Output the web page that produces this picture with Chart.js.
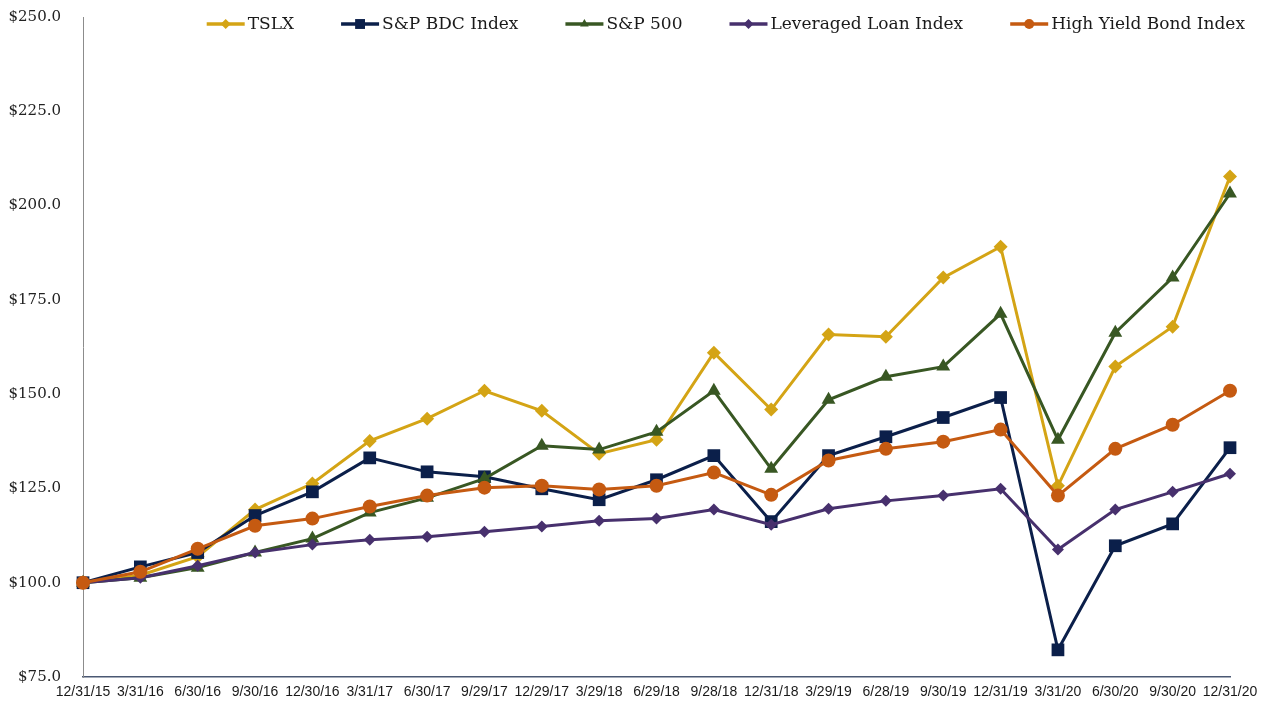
<!DOCTYPE html>
<html>
<head>
<meta charset="utf-8">
<script src="https://cdn.jsdelivr.net/npm/chart.js@4.4.1/dist/chart.umd.min.js"></script>
<style>
  html, body { margin: 0; padding: 0; background: #fff; }
  #wrap { width: 1268px; height: 708px; }
</style>
</head>
<body>
<div id="wrap"><canvas id="perfChart" width="1268" height="708"></canvas></div>
<script>
// quarter-end dates
const labels = ['12/31/15', '3/31/16', '6/30/16', '9/30/16', '12/30/16', '3/31/17', '6/30/17', '9/29/17',
  '12/29/17', '3/29/18', '6/29/18', '9/28/18', '12/31/18', '3/29/19', '6/28/19', '9/30/19',
  '12/31/19', '3/31/20', '6/30/20', '9/30/20', '12/31/20'];

const tslx = [100, 102, 106.9, 119.4, 126.3, 137.6, 143.5, 150.9, 145.6, 134.2, 137.9, 161.0, 145.9,
  165.8, 165.2, 180.9, 189.1, 125.7, 157.3, 167.9, 207.7];
const bdcIndex = [100, 104.2, 108, 117.8, 124.1, 133.1, 129.4, 128.1, 124.9, 122.0, 127.3, 133.7, 116.2,
  133.7, 138.7, 143.8, 149.1, 82.2, 109.8, 115.6, 135.8];
const sp500 = [100, 101.3, 104, 108, 111.7, 118.6, 122.5, 127.6, 136.3, 135.3, 140, 150.9, 130.2,
  148.5, 154.6, 157.3, 171.3, 137.9, 166.3, 180.9, 203.2];
const loanIndex = [100, 101.3, 104.5, 108, 110.1, 111.4, 112.2, 113.5, 114.9, 116.4, 117, 119.4, 115.4,
  119.6, 121.7, 123.1, 124.9, 108.8, 119.4, 124.1, 128.9];
const hyIndex = [100, 102.9, 109, 115.1, 117, 120.2, 123.1, 125.2, 125.7, 124.7, 125.7, 129.2, 123.3,
  132.4, 135.5, 137.4, 140.6, 123.1, 135.5, 141.9, 150.9];

const yMin = 75, yMax = 250, yStep = 25;

const serif = "'DejaVu Serif', 'Liberation Serif', serif";

const series = [
    { label: 'TSLX', data: tslx, color: '#D4A415', style: 'rectRot', radius: 7, order: 4 },
    { label: 'S&P BDC Index', data: bdcIndex, color: '#0B1F4A', style: 'rect', radius: 9, order: 3 },
    { label: 'S&P 500', data: sp500, color: '#385723', style: 'triangle', radius: 8, order: 2 },
    { label: 'Leveraged Loan Index', data: loanIndex, color: '#47306D', style: 'rectRot', radius: 6, order: 1 },
    { label: 'High Yield Bond Index', data: hyIndex, color: '#C55A11', style: 'circle', radius: 7, order: 0 }
];

// legend sits inside the plot, top right, in one row
const topLegend = {
    id: 'topLegend',
    afterDraw(chart) {
        const c = chart.ctx;
        c.save();
        c.font = '17px ' + serif;
        c.textBaseline = 'middle';
        const swW = 38, gapText = 3, gapItem = 47, y = 24;
        const widths = series.map(s => c.measureText(s.label).width);
        const total = widths.reduce((a, w) => a + swW + gapText + w, 0) + gapItem * (series.length - 1);
        let x = 1245 - total;
        series.forEach((s, i) => {
            c.strokeStyle = s.color;
            c.fillStyle = s.color;
            c.lineWidth = 3.5;
            c.beginPath(); c.moveTo(x, y); c.lineTo(x + swW, y); c.stroke();
            Chart.helpers.drawPoint(c, {
                pointStyle: s.style,
                radius: s.style === 'rect' ? 7 : 5,
                rotation: 0,
                borderWidth: 0
            }, x + swW / 2, y);
            c.fillStyle = '#1a1a1a';
            c.fillText(s.label, x + swW + gapText, y + 1);
            x += swW + gapText + widths[i] + gapItem;
        });
        c.restore();
    }
};

const ctx = document.getElementById('perfChart').getContext('2d');
new Chart(ctx, {
    type: 'line',
    data: {
        labels: labels,
        datasets: series.map(s => ({
            label: s.label,
            data: s.data,
            borderColor: s.color,
            backgroundColor: s.color,
            borderWidth: 3,
            pointStyle: s.style,
            pointRadius: s.radius,
            pointBorderWidth: 0,
            pointBackgroundColor: s.color,
            order: s.order,
            tension: 0
        }))
    },
    options: {
        responsive: false,
        animation: false,
        layout: { autoPadding: false, padding: { top: 17, right: 38, left: 0, bottom: 0 } },
        plugins: {
            tooltip: { enabled: false },
            legend: { display: false }
        },
        scales: {
            x: {
                offset: false,
                grid: { display: false, drawTicks: false },
                border: { display: true, color: '#4A5873', width: 1.5 },
                ticks: {
                    autoSkip: false,
                    maxRotation: 0,
                    padding: 7,
                    color: '#1a1a1a',
                    font: { family: "'Liberation Sans', Arial, sans-serif", size: 14 }
                },
                afterFit: scale => { scale.height = 31; }
            },
            y: {
                min: yMin,
                max: yMax,
                grid: { display: false, drawTicks: false },
                border: { display: true, color: '#8C8C8C', width: 1 },
                ticks: {
                    stepSize: yStep,
                    padding: 22,
                    color: '#222222',
                    font: { family: serif, size: 15 },
                    callback: v => '$' + Number(v).toFixed(1)
                },
                afterFit: scale => {
                    scale.width = 83;
                    scale.paddingTop = 0;
                    scale.paddingBottom = 0;
                }
            }
        }
    },
    plugins: [topLegend]
});
</script>
</body>
</html>
